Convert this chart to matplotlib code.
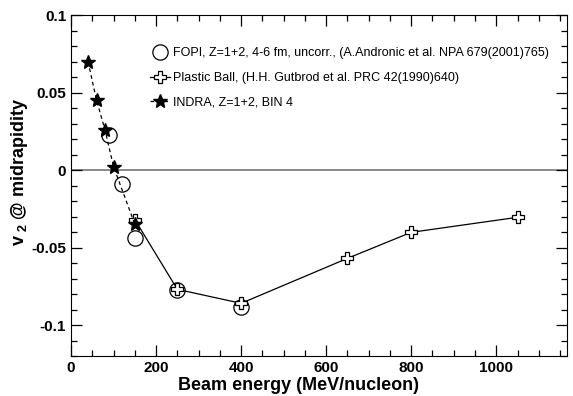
import matplotlib
matplotlib.use("Agg")
import matplotlib.pyplot as plt
from matplotlib.ticker import MultipleLocator

plt.rcParams['font.family'] = ['Liberation Sans', 'DejaVu Sans']
plt.rcParams['mathtext.fontset'] = 'custom'
plt.rcParams['mathtext.bf'] = 'Liberation Sans:bold'
plt.rcParams['mathtext.rm'] = 'Liberation Sans'

# FOPI, Z=1+2, 4-6 fm
fopi_e = [90, 120, 150, 250, 400]
fopi_v2 = [0.0225, -0.009, -0.0437, -0.0775, -0.0886]

# Plastic Ball
pb_e = [150, 250, 400, 650, 800, 1050]
pb_v2 = [-0.032, -0.077, -0.086, -0.057, -0.0402, -0.0305]

# INDRA, Z=1+2, BIN 4
indra_e = [40, 60, 80, 100, 150]
indra_v2 = [0.0699, 0.045, 0.0258, 0.0021, -0.035]

labels = ["FOPI, Z=1+2, 4-6 fm, uncorr., (A.Andronic et al. NPA 679(2001)765)",
          "Plastic Ball, (H.H. Gutbrod et al. PRC 42(1990)640)",
          "INDRA, Z=1+2, BIN 4"]

fig = plt.figure(figsize=(5.73, 3.96), dpi=100)
ax = fig.add_axes([0.124, 0.101, 0.866, 0.861])

ax.axhline(0, color='#777777', lw=1.2, zorder=1)

ax.plot(fopi_e, fopi_v2, ls='none', marker='o', ms=11, mfc='none', mec='black',
        mew=0.9, label=labels[0], zorder=3)
ax.plot(pb_e, pb_v2, ls='-', color='black', lw=0.9, marker='P', ms=9, mfc='white',
        mec='black', mew=0.9, label=labels[1], zorder=4)
ax.plot(indra_e, indra_v2, ls=(0, (3, 2.5)), color='black', lw=0.9, marker='*', ms=10,
        mfc='black', mec='black', label=labels[2], zorder=5)

ax.set_xlim(0, 1167)
ax.set_ylim(-0.12, 0.1)
ax.xaxis.set_major_locator(MultipleLocator(200))
ax.xaxis.set_minor_locator(MultipleLocator(50))
ax.yaxis.set_major_locator(MultipleLocator(0.05))
ax.yaxis.set_minor_locator(MultipleLocator(0.01))
ax.tick_params(which='both', direction='in', top=True, right=True, labelsize=11)
ax.tick_params(which='major', length=8, width=0.9)
ax.tick_params(which='minor', length=4, width=0.9)
ax.set_yticks([-0.1, -0.05, 0, 0.05, 0.1])
ax.set_yticklabels(['-0.1', '-0.05', '0', '0.05', '0.1'])
for lab in ax.get_xticklabels() + ax.get_yticklabels():
    lab.set_fontweight('bold')

ax.set_xlabel("Beam energy (MeV/nucleon)", fontsize=13, fontweight='bold')
ax.set_ylabel(r"$\mathbf{v}_{\ \mathbf{2}}$ @ midrapidity", fontsize=13, fontweight='bold')
ax.xaxis.set_label_coords(0.458, -0.062)
ax.yaxis.set_label_coords(-0.083, 0.54)

ax.legend(loc='upper left', bbox_to_anchor=(0.15, 0.92), frameon=False, fontsize=9,
          handlelength=1.6, handletextpad=0.2, labelspacing=1.02, borderaxespad=0)

fig.savefig("out.png", dpi=100)
